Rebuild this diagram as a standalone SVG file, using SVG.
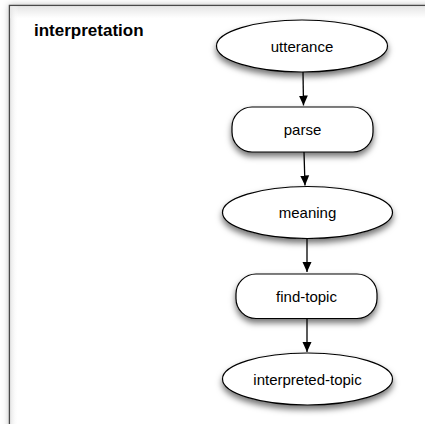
<svg xmlns="http://www.w3.org/2000/svg" width="425" height="424" viewBox="0 0 425 424">
  <defs>
    <filter id="shadow" x="-20%" y="-30%" width="140%" height="170%">
      <feDropShadow dx="0" dy="4" stdDeviation="3" flood-color="#000" flood-opacity="0.55"/>
    </filter>
    <filter id="frameShadow" x="-10%" y="-10%" width="120%" height="120%">
      <feDropShadow dx="0" dy="0" stdDeviation="3" flood-color="#000" flood-opacity="0.25"/>
    </filter>
    <linearGradient id="innerTop" x1="0" y1="0" x2="0" y2="1">
      <stop offset="0" stop-color="#e6e6e6"/>
      <stop offset="1" stop-color="#ffffff"/>
    </linearGradient>
    <linearGradient id="innerLeft" x1="0" y1="0" x2="1" y2="0">
      <stop offset="0" stop-color="#e6e6e6"/>
      <stop offset="1" stop-color="#ffffff" stop-opacity="0"/>
    </linearGradient>
    <marker id="arrow" viewBox="0 0 10 10" refX="10" refY="5" markerWidth="10" markerHeight="10" markerUnits="userSpaceOnUse" orient="auto">
      <path d="M0,0.5 L10,5 L0,9.5 Z" fill="#000"/>
    </marker>
    <style>
      .node { fill: #fff; stroke: #000; stroke-width: 1.2; filter: url(#shadow); }
      .label { font-family: "Liberation Sans", Arial, Helvetica, sans-serif; font-size: 15px; fill: #000; text-anchor: middle; }
      .title { font-family: "Liberation Sans", Arial, Helvetica, sans-serif; font-size: 17px; font-weight: bold; fill: #000; }
      .edge { stroke: #000; stroke-width: 1.3; fill: none; marker-end: url(#arrow); }
    </style>
  </defs>

  <rect x="0" y="0" width="425" height="424" fill="#ffffff"/>

  <g id="frame">
    <rect x="9.5" y="5.5" width="430" height="430" fill="#ffffff" stroke="#4a4a4a" stroke-width="1.5" filter="url(#frameShadow)"/>
    <rect x="10.25" y="6.25" width="420" height="12" fill="url(#innerTop)"/>
    <rect x="10.25" y="6.25" width="8" height="420" fill="url(#innerLeft)"/>
    <text class="title" x="34" y="36">interpretation</text>
  </g>

  <g id="connectors">
    <line class="edge" x1="303" y1="72" x2="303.5" y2="105.5"/>
    <line class="edge" x1="304" y1="152" x2="305" y2="185.5"/>
    <line class="edge" x1="307" y1="238.5" x2="307" y2="272"/>
    <line class="edge" x1="307" y1="318.5" x2="307" y2="352"/>
  </g>

  <g id="utterance">
    <ellipse class="node" cx="302" cy="46" rx="85.5" ry="26"/>
    <text class="label" x="302" y="51.5">utterance</text>
  </g>

  <g id="parse">
    <rect class="node" x="232" y="107" width="141" height="45" rx="20" ry="20"/>
    <text class="label" x="302.5" y="134.5">parse</text>
  </g>

  <g id="meaning">
    <ellipse class="node" cx="307.5" cy="212.5" rx="85" ry="26"/>
    <text class="label" x="307.5" y="218">meaning</text>
  </g>

  <g id="find-topic">
    <rect class="node" x="236" y="274" width="141" height="44.5" rx="20" ry="20"/>
    <text class="label" x="306.5" y="301.5">find-topic</text>
  </g>

  <g id="interpreted-topic">
    <ellipse class="node" cx="307.5" cy="379" rx="85" ry="26"/>
    <text class="label" x="307.5" y="384.5">interpreted-topic</text>
  </g>
</svg>
